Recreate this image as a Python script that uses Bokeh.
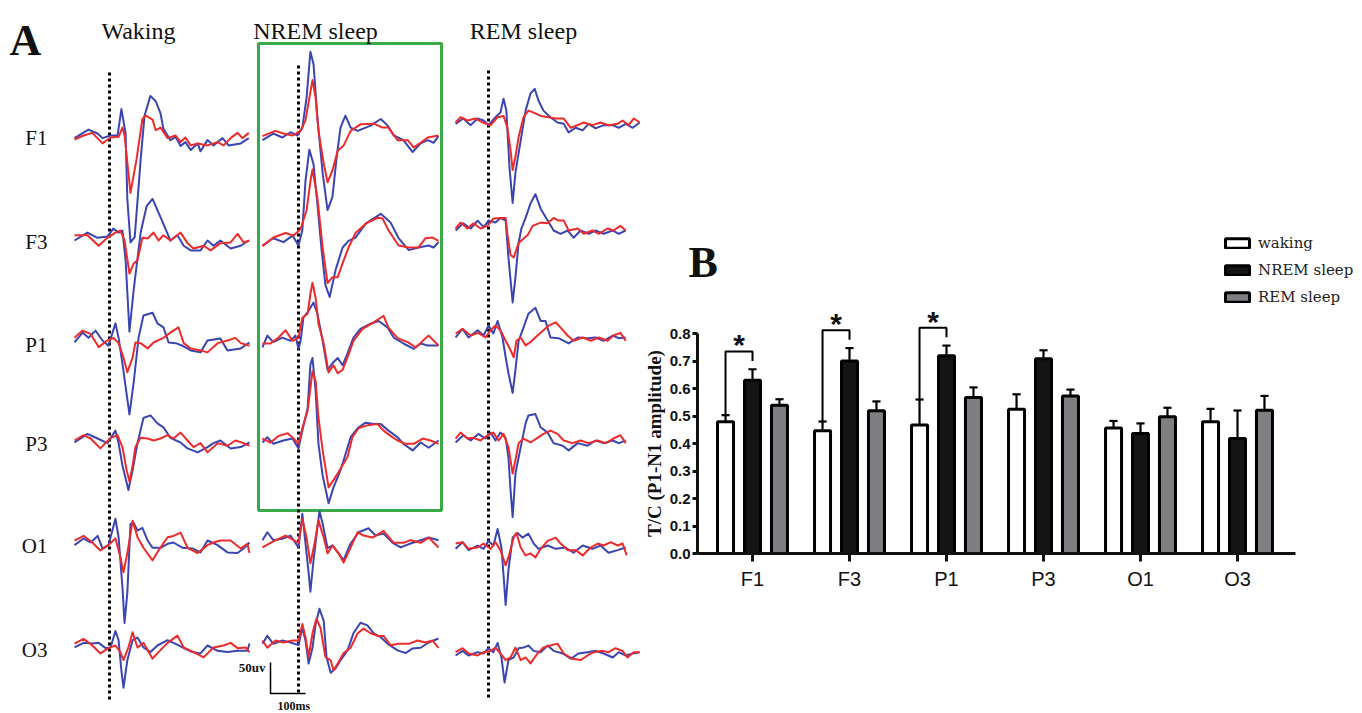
import math
from bokeh.plotting import figure
from bokeh.layouts import row
from bokeh.models import (Range1d, FixedTicker, PrintfTickFormatter, Legend, LegendItem,
                          Label, ColumnDataSource)
from bokeh.core.properties import value
from bokeh.embed import file_html
from bokeh.resources import INLINE
from bokeh.transform import dodge

# ---------------- Panel B data ----------------
CATEGORIES = ["F1", "F3", "P1", "P3", "O1", "O3"]
WAKING = [0.479, 0.446, 0.467, 0.525, 0.456, 0.479]
WAKING_ERR = [0.024, 0.034, 0.093, 0.054, 0.026, 0.047]
NREM = [0.630, 0.700, 0.719, 0.708, 0.436, 0.418]
NREM_ERR = [0.040, 0.047, 0.037, 0.031, 0.037, 0.102]
REM = [0.539, 0.519, 0.567, 0.573, 0.497, 0.521]
REM_ERR = [0.022, 0.034, 0.037, 0.023, 0.033, 0.052]
SERIES_LABELS = ["waking", "NREM sleep", "REM sleep"]
SIGNIFICANT = ["F1", "F3", "P1"]
Y_TICKS = [0.0, 0.1, 0.2, 0.3, 0.4, 0.5, 0.6, 0.7, 0.8]
Y_LABEL = "T/C (P1-N1 amplitude)"

# ---------------- Panel A data (time ms, amplitude uV) ----------------
COL_TITLES = ["Waking", "NREM sleep", "REM sleep"]
CHANNELS = ["F1", "F3", "P1", "P3", "O1", "O3"]

WAKING_F1_BLUE = [(-100,-4),(-60,9),(-34,3),(-20,-4),(3,0),(23,0),(34,40),(46,3),(51,-97),(60,-162),(72,-154),(89,-37),(100,30),(117,60),(132,52),(146,33),(154,10),(174,-7),(189,-2),(203,-16),(217,-10),(232,-22),(252,-12),(260,-24),(280,-7),(297,-15),(323,-4),(340,-15),(375,-12),(398,-4)]
WAKING_F1_RED = [(-100,-6),(-74,0),(-49,4),(-20,-12),(3,-3),(26,-2),(37,12),(43,0),(60,-87),(77,-37),(94,25),(103,30),(123,24),(132,8),(146,12),(166,-4),(189,0),(203,-10),(217,-3),(232,-15),(252,-12),(280,-15),(309,-10),(326,-15),(346,-4),(366,4),(380,-4),(398,4)]
WAKING_F3_BLUE = [(-100,0),(-63,12),(-34,4),(-6,6),(11,18),(26,12),(37,15),(46,-30),(57,-138),(69,-75),(89,12),(106,52),(123,63),(146,35),(166,10),(174,0),(194,8),(212,-8),(232,-15),(260,-15),(280,0),(297,-8),(317,0),(346,-12),(375,-8),(398,0)]
WAKING_F3_RED = [(-100,8),(-63,8),(-31,-8),(-6,4),(17,12),(31,15),(43,0),(57,-50),(69,-35),(80,-30),(94,4),(109,3),(126,12),(140,0),(154,8),(174,0),(203,12),(223,-4),(240,-12),(269,-8),(289,-15),(317,-4),(346,-3),(366,10),(383,-3),(400,0)]
WAKING_P1_BLUE = [(-100,-3),(-77,12),(-60,4),(-40,15),(-20,0),(-3,-8),(17,26),(26,4),(37,-35),(46,-70),(57,-112),(69,-64),(83,4),(97,38),(123,42),(137,26),(154,20),(169,-3),(189,-4),(209,-8),(232,-15),(260,-18),(280,0),(317,3),(337,-15),(375,-12),(400,-3)]
WAKING_P1_RED = [(-100,4),(-77,15),(-54,10),(-31,-10),(-6,0),(11,4),(26,-4),(40,-26),(51,-48),(66,-26),(74,-3),(89,-4),(109,-12),(126,-3),(154,4),(174,12),(197,20),(212,-4),(232,-12),(260,-15),(280,-18),(309,-4),(337,0),(360,4),(375,-4),(400,-8)]
WAKING_P3_BLUE = [(-100,-3),(-63,10),(-34,3),(-6,-4),(17,15),(26,-4),(37,-38),(54,-75),(66,-45),(80,-4),(97,34),(117,38),(137,26),(154,20),(174,4),(203,-3),(223,-12),(252,-18),(280,-10),(297,-4),(317,0),(346,-12),(375,-10),(400,-3)]
WAKING_P3_RED = [(-100,0),(-74,8),(-54,3),(-26,-12),(3,4),(23,8),(37,-10),(49,-45),(57,-62),(66,-38),(74,-10),(89,4),(109,3),(126,0),(146,3),(166,8),(183,3),(203,12),(223,0),(240,-10),(260,-4),(280,-18),(309,-4),(337,-8),(360,0),(383,-4),(400,-8)]
WAKING_O1_BLUE = [(-100,-4),(-74,6),(-54,0),(-34,10),(-20,-9),(-3,-4),(17,36),(26,8),(37,-68),(43,-122),(51,-76),(60,28),(69,30),(80,18),(94,22),(109,3),(123,-8),(146,-8),(166,-2),(183,0),(209,-8),(237,-9),(260,-15),(280,3),(309,-4),(337,-15),(366,-16),(383,-9),(400,0)]
WAKING_O1_RED = [(-100,3),(-74,10),(-49,0),(-26,-12),(-3,-4),(17,6),(31,-22),(40,-45),(51,-16),(66,33),(80,8),(97,-8),(123,-27),(140,-12),(166,8),(183,10),(203,15),(223,-8),(252,-16),(280,-4),(297,0),(317,3),(346,3),(375,-9),(394,-2),(400,-16)]
WAKING_O3_BLUE = [(-100,-3),(-74,4),(-49,3),(-31,4),(-11,-4),(3,-3),(17,22),(26,8),(34,-38),(40,-64),(51,-22),(66,8),(80,12),(97,-3),(117,-10),(137,0),(166,8),(183,4),(209,-3),(237,-10),(260,-12),(280,0),(309,-8),(337,-10),(366,-8),(394,-8),(400,3)]
WAKING_O3_RED = [(-100,3),(-74,10),(-49,0),(-26,-12),(-3,-4),(17,0),(31,-10),(40,-22),(54,-3),(66,20),(80,-3),(97,4),(123,-20),(140,-10),(166,4),(194,15),(212,-3),(240,-10),(269,-18),(297,-3),(326,0),(346,4),(366,-4),(389,-3),(400,-10)]

NREM_F1_BLUE = [(-103,-4),(-72,6),(-46,0),(-23,8),(-3,3),(11,15),(23,60),(34,130),(43,111),(54,30),(69,-54),(83,-110),(97,-90),(109,-30),(120,15),(134,33),(149,15),(169,10),(192,15),(206,18),(235,28),(255,18),(272,3),(300,-4),(326,-22),(349,-9),(369,-4),(386,-8),(400,2)]
NREM_F1_RED = [(-103,2),(-66,10),(-43,6),(-17,3),(6,10),(20,26),(31,60),(40,87),(49,60),(57,10),(72,-39),(83,-68),(97,-50),(112,-20),(129,-12),(149,10),(177,20),(215,21),(240,15),(257,15),(283,-4),(312,-4),(329,-15),(349,-8),(369,0),(400,3)]
NREM_F3_BLUE = [(-103,-3),(-72,8),(-43,2),(-17,12),(0,-3),(11,20),(20,95),(31,142),(43,120),(54,60),(66,-10),(77,-63),(89,-81),(106,-40),(126,-6),(143,4),(163,9),(192,30),(235,45),(263,32),(286,8),(315,-10),(343,-6),(372,-3),(386,-6),(400,2)]
NREM_F3_RED = [(-103,-4),(-72,9),(-37,16),(-14,12),(6,22),(23,50),(34,94),(40,112),(54,69),(69,-6),(83,-60),(97,-51),(112,-51),(126,-30),(143,-6),(163,16),(192,30),(226,39),(240,38),(257,20),(286,-3),(315,-6),(343,-6),(363,8),(383,9),(400,4)]
NREM_P1_BLUE = [(-103,-6),(-89,12),(-72,2),(-46,9),(-23,4),(-9,12),(0,-8),(6,4),(14,39),(29,50),(43,62),(54,45),(69,4),(83,-40),(97,-30),(112,-22),(126,-33),(140,-15),(157,9),(177,22),(206,30),(229,34),(255,24),(272,9),(300,0),(329,-8),(349,0),(369,-3),(400,-3)]
NREM_P1_RED = [(-103,0),(-80,0),(-57,9),(-37,20),(-17,4),(0,9),(11,39),(26,45),(34,75),(40,92),(49,69),(57,30),(72,0),(86,-44),(100,-33),(112,-45),(126,-40),(140,-21),(157,4),(183,22),(215,32),(243,42),(257,24),(283,8),(312,2),(335,-6),(355,4),(372,12),(400,-3)]
NREM_P3_BLUE = [(-103,0),(-89,8),(-72,-2),(-43,3),(-17,6),(0,-9),(11,18),(26,52),(34,118),(40,128),(49,78),(57,-2),(69,-50),(86,-92),(100,-68),(120,-42),(129,-27),(149,8),(169,22),(192,30),(215,28),(235,28),(257,18),(283,8),(300,-2),(326,-12),(349,0),(372,-8),(400,3)]
NREM_P3_RED = [(-103,6),(-80,0),(-57,10),(-31,14),(-14,6),(0,-2),(11,22),(26,48),(34,82),(40,108),(49,93),(57,38),(69,-12),(86,-68),(100,-57),(114,-45),(140,-22),(154,8),(172,22),(197,26),(226,28),(243,18),(263,10),(283,3),(306,-2),(329,-2),(355,6),(377,3),(400,-2)]
NREM_O1_BLUE = [(-103,2),(-89,14),(-72,2),(-46,4),(-23,9),(0,-9),(11,42),(20,-3),(29,-48),(34,-76),(43,-28),(54,21),(60,46),(69,27),(83,-10),(97,-6),(112,-16),(129,-28),(149,-3),(172,14),(200,20),(220,9),(243,12),(269,-2),(292,-9),(320,-3),(349,2),(372,6),(400,2)]
NREM_O1_RED = [(-103,-9),(-80,-2),(-57,4),(-37,9),(-14,2),(0,-2),(11,34),(23,6),(34,-33),(46,-3),(57,32),(72,6),(83,-18),(97,-6),(114,-18),(129,-32),(149,-9),(169,14),(186,9),(212,6),(243,16),(272,-2),(300,-2),(320,2),(349,-2),(372,6),(400,-9)]
NREM_O3_BLUE = [(-103,-2),(-89,10),(-72,-2),(-46,3),(-23,0),(0,-4),(11,22),(20,3),(29,-32),(40,-8),(49,28),(60,51),(72,33),(80,-22),(92,-46),(106,-39),(120,-27),(140,-12),(157,14),(177,30),(197,26),(215,14),(235,8),(255,-2),(283,-12),(306,-16),(326,-9),(349,-8),(372,0),(400,6)]
NREM_O3_RED = [(-103,3),(-89,-8),(-66,3),(-43,0),(-17,3),(0,3),(11,28),(20,8),(29,-22),(40,14),(51,36),(63,22),(77,-22),(92,-27),(100,-42),(112,-32),(129,-16),(149,-8),(169,14),(186,21),(206,14),(226,10),(243,10),(263,-4),(286,-2),(315,-2),(340,3),(363,0),(383,3),(400,-8)]

REM_F1_BLUE = [(-94,-2),(-72,6),(-51,-4),(-31,6),(-14,3),(0,-4),(20,8),(34,15),(43,36),(51,18),(60,-68),(69,-122),(77,-76),(92,-27),(106,18),(120,44),(132,51),(143,33),(157,18),(177,8),(197,0),(215,-2),(229,-15),(249,-8),(269,-12),(286,-2),(306,-9),(329,-4),(355,-4),(372,-8),(392,-2),(412,-8),(432,0)]
REM_F1_RED = [(-94,0),(-80,8),(-60,3),(-37,6),(-17,0),(6,-4),(26,8),(43,10),(54,-8),(63,-42),(69,-72),(77,-52),(86,-22),(100,8),(114,18),(129,15),(149,10),(172,8),(192,6),(215,6),(235,-8),(255,-4),(272,0),(297,-4),(320,0),(343,-4),(369,-2),(383,3),(400,-4),(415,6),(432,0)]
REM_F3_BLUE = [(-94,-3),(-72,8),(-51,0),(-31,12),(-14,2),(0,12),(20,9),(34,16),(49,12),(57,-44),(69,-112),(77,-74),(86,-22),(94,0),(106,16),(120,38),(134,52),(149,30),(169,12),(186,-3),(206,-8),(226,-3),(243,-14),(263,-3),(286,-8),(306,-3),(329,-8),(355,-3),(372,-8),(392,-3)]
REM_F3_RED = [(-94,0),(-80,9),(-60,0),(-43,8),(-23,0),(-3,4),(14,15),(34,16),(49,16),(54,-8),(63,-40),(72,-44),(86,-22),(112,-10),(126,4),(149,9),(169,8),(186,16),(200,12),(215,12),(229,-3),(255,0),(272,-8),(297,-3),(315,-8),(340,0),(357,-3),(377,4),(392,-3)]
REM_P1_BLUE = [(-94,-3),(-74,10),(-57,-3),(-31,8),(-14,0),(0,15),(14,3),(26,22),(40,-3),(49,-33),(57,-57),(69,-87),(77,-52),(86,-8),(100,12),(114,33),(134,42),(149,22),(163,22),(177,-3),(200,-4),(229,-12),(255,-3),(283,-4),(306,-3),(329,-8),(355,0),(372,-4),(392,-3)]
REM_P1_RED = [(-94,3),(-74,10),(-51,0),(-29,4),(-9,-3),(6,8),(20,15),(34,8),(49,-8),(63,-22),(72,-33),(80,-8),(92,-3),(106,-15),(120,-10),(140,0),(157,8),(172,15),(192,20),(206,12),(226,0),(243,-8),(269,-3),(292,-8),(315,-3),(340,-8),(357,0),(377,4),(392,-8)]
REM_P3_BLUE = [(-94,-3),(-72,8),(-51,0),(-29,10),(-9,3),(6,12),(20,0),(34,12),(49,4),(57,-26),(63,-75),(69,-116),(77,-50),(92,-10),(106,26),(114,38),(134,40),(149,20),(169,12),(186,-4),(212,-8),(229,-15),(255,-4),(283,-8),(306,0),(329,-4),(355,0),(372,-4),(392,0)]
REM_P3_RED = [(-94,3),(-80,12),(-60,3),(-43,4),(-23,0),(-3,8),(14,12),(29,0),(43,10),(57,-10),(69,-50),(77,-30),(86,-4),(100,3),(120,-3),(140,4),(157,10),(177,15),(197,10),(215,0),(240,-4),(263,0),(286,-4),(312,0),(335,-4),(357,3),(377,8),(392,-4)]
REM_O1_BLUE = [(-94,-2),(-74,8),(-57,-4),(-31,3),(-14,-2),(0,10),(14,3),(26,28),(37,0),(43,-42),(49,-87),(57,-34),(69,15),(83,22),(97,15),(114,21),(129,6),(143,-2),(169,3),(192,-2),(220,0),(243,-8),(269,3),(297,-2),(320,3),(343,-8),(369,-4),(392,0)]
REM_O1_RED = [(-94,6),(-74,8),(-57,-2),(-31,0),(-14,6),(6,-2),(20,8),(34,-4),(49,-27),(57,-15),(72,15),(80,22),(92,0),(106,-12),(120,-9),(134,-15),(149,-2),(169,10),(192,15),(206,6),(226,-4),(249,-4),(269,-12),(292,0),(312,6),(329,3),(349,8),(369,3),(383,6),(395,-12)]
REM_O3_BLUE = [(-94,-3),(-74,4),(-57,-3),(-31,2),(-14,0),(0,8),(14,2),(26,16),(37,-6),(46,-44),(57,-10),(72,-6),(86,8),(100,9),(114,12),(129,4),(149,2),(169,12),(186,4),(212,0),(235,-8),(257,0),(283,2),(306,4),(329,0),(355,-6),(372,2),(392,-3),(412,0),(432,2)]
REM_O3_RED = [(-94,2),(-74,8),(-57,0),(-31,-3),(-14,2),(6,4),(20,9),(34,0),(49,-10),(63,-6),(77,9),(92,-10),(106,-6),(120,-15),(140,0),(157,9),(177,12),(197,15),(215,0),(240,-8),(263,-10),(283,-3),(300,2),(326,4),(343,2),(363,8),(383,4),(397,-6),(415,2),(432,2)]

TRACES = {
    "Waking": [(WAKING_F1_BLUE, WAKING_F1_RED), (WAKING_F3_BLUE, WAKING_F3_RED),
               (WAKING_P1_BLUE, WAKING_P1_RED), (WAKING_P3_BLUE, WAKING_P3_RED),
               (WAKING_O1_BLUE, WAKING_O1_RED), (WAKING_O3_BLUE, WAKING_O3_RED)],
    "NREM sleep": [(NREM_F1_BLUE, NREM_F1_RED), (NREM_F3_BLUE, NREM_F3_RED),
                   (NREM_P1_BLUE, NREM_P1_RED), (NREM_P3_BLUE, NREM_P3_RED),
                   (NREM_O1_BLUE, NREM_O1_RED), (NREM_O3_BLUE, NREM_O3_RED)],
    "REM sleep": [(REM_F1_BLUE, REM_F1_RED), (REM_F3_BLUE, REM_F3_RED),
                  (REM_P1_BLUE, REM_P1_RED), (REM_P3_BLUE, REM_P3_RED),
                  (REM_O1_BLUE, REM_O1_RED), (REM_O3_BLUE, REM_O3_RED)],
}

# ---------------- layout constants (screen px) ----------------
W, H = 1362, 713
WA = 640
PX_PER_MS = 0.35      # 100 ms scale bar = 35 px
PX_PER_UV = 0.66      # 50 uV scale bar = 33 px
STIM_X = {"Waking": 109, "NREM sleep": 298, "REM sleep": 488}
BASE_Y = {"Waking": [135, 240, 340, 440, 542, 645],
          "NREM sleep": [137, 243, 343, 442, 541, 642],
          "REM sleep": [122, 228, 335, 440, 547, 653]}
DOT_SPAN = {"Waking": (72, 700), "NREM sleep": (65, 693), "REM sleep": (70, 698)}
TITLE_X = {"Waking": 138, "NREM sleep": 315, "REM sleep": 523}
ROW_LABEL_Y = [137, 241, 344, 443, 545, 649]
BLUE = "#3b45b2"
RED = "#ee2b2b"
GREEN = "#3aaa48"
SERIF = "Liberation Serif"
INK = "#111111"

# ================= Panel A =================
pa = figure(width=WA, height=H, x_range=Range1d(0, WA), y_range=Range1d(H, 0),
            output_backend="svg", toolbar_location=None,
            x_axis_location=None, y_axis_location=None, min_border=0)
pa.grid.visible = False
pa.outline_line_color = None

pa.quad(left=[258], right=[441], top=[43], bottom=[510], fill_color=None,
        line_color=GREEN, line_width=3)

for col in COL_TITLES:
    y0, y1 = DOT_SPAN[col]
    pa.segment(x0=[STIM_X[col]], y0=[y0], x1=[STIM_X[col]], y1=[y1],
               line_color="black", line_width=3, line_dash="3 3")

bxs, bys, rxs, rys = [], [], [], []
for col in COL_TITLES:
    sx = STIM_X[col]
    for k, (blue, red) in enumerate(TRACES[col]):
        base = BASE_Y[col][k]
        bxs.append([sx + t * PX_PER_MS for t, v in blue])
        bys.append([base - v * PX_PER_UV for t, v in blue])
        rxs.append([sx + t * PX_PER_MS for t, v in red])
        rys.append([base - v * PX_PER_UV for t, v in red])
pa.multi_line(xs=bxs, ys=bys, line_color=BLUE, line_width=2, line_join="round")
pa.multi_line(xs=rxs, ys=rys, line_color=RED, line_width=2, line_join="round")

pa.text(x=[9], y=[40], text=["A"], text_font=value(SERIF), text_font_style="bold",
        text_font_size=value("44px"), text_align="left", text_baseline="alphabetic",
        text_color=INK)
pa.text(x=[TITLE_X[c] for c in COL_TITLES], y=[30] * 3, text=COL_TITLES,
        text_font=value(SERIF), text_font_size=value("24px"), text_align="center",
        text_baseline="alphabetic", text_color=INK)
pa.text(x=[47] * 6, y=ROW_LABEL_Y, text=CHANNELS, text_font=value(SERIF),
        text_font_size=value("21px"), text_align="right", text_baseline="middle",
        text_color=INK)

pa.multi_line(xs=[[270, 270, 305]], ys=[[662, 693, 693]], line_color="black", line_width=1.5)
pa.text(x=[265], y=[667], text=["50uv"], text_font=value(SERIF), text_font_style="bold",
        text_font_size=value("13px"), text_align="right", text_baseline="middle",
        text_color=INK)
pa.text(x=[277], y=[705], text=["100ms"], text_font=value(SERIF), text_font_style="bold",
        text_font_size=value("12px"), text_align="left", text_baseline="alphabetic",
        text_color=INK)

# ================= Panel B =================
PX_PER_CAT = 97.0
PX_PER_VAL = 275.0
AX_X, AX_Y = 697, 553                  # screen position of the axes' corner
X0 = -0.567                            # x value at the y axis
XL = X0 - (AX_X - WA) / PX_PER_CAT
XR = X0 + (W - AX_X) / PX_PER_CAT
YB = -(H - AX_Y) / PX_PER_VAL
YT = AX_Y / PX_PER_VAL

pb = figure(width=W - WA, height=H, x_range=Range1d(XL, XR), y_range=Range1d(YB, YT),
            output_backend="svg", toolbar_location=None, min_border=0)
pb.grid.visible = False
pb.outline_line_color = None

idx = list(range(len(CATEGORIES)))
src = ColumnDataSource(dict(idx=idx, waking=WAKING, nrem=NREM, rem=REM))
OFFS = [-0.278, 0.0, 0.278]
FILLS = ["white", "#141414", "#7e7f83"]
BAR_W = 0.165
renderers = []
for field, off, fill in zip(["waking", "nrem", "rem"], OFFS, FILLS):
    r = pb.vbar(x=dodge("idx", off, range=pb.x_range), top=field, bottom=0, width=BAR_W,
                source=src, fill_color=fill, line_color="black", line_width=3)
    renderers.append(r)

ex0, ey0, ex1, ey1 = [], [], [], []
for vals, errs, off in zip([WAKING, NREM, REM], [WAKING_ERR, NREM_ERR, REM_ERR], OFFS):
    for i, (v, e) in enumerate(zip(vals, errs)):
        x = i + off
        ex0 += [x, x - 0.042]
        ey0 += [v, v + e]
        ex1 += [x, x + 0.042]
        ey1 += [v + e, v + e]
pb.segment(x0=ex0, y0=ey0, x1=ex1, y1=ey1, line_color="black", line_width=2.2)

bx, by, sx_, sy_ = [], [], [], []
for c in SIGNIFICANT:
    i = CATEGORIES.index(c)
    xl, xr = i + OFFS[0], i + OFFS[1]
    top = NREM[i] + NREM_ERR[i] + 0.065
    bx.append([xl, xl, xr, xr])
    by.append([WAKING[i] + WAKING_ERR[i], top, top, top - 0.035])
    sx_.append((xl + xr) / 2)
    sy_.append(top + 0.024)
pb.multi_line(xs=bx, ys=by, line_color="black", line_width=2)
pb.text(x=sx_, y=sy_, text=["*"] * len(sx_), text_font=value("Liberation Sans"),
        text_font_style="bold", text_font_size=value("30px"), text_align="center",
        text_baseline="alphabetic", text_color=INK)

pb.xaxis.fixed_location = 0
pb.yaxis.fixed_location = X0
pb.xaxis.ticker = FixedTicker(ticks=idx)
pb.xaxis.major_label_overrides = {i: c for i, c in enumerate(CATEGORIES)}
pb.xaxis.bounds = (X0, 5.598)
pb.yaxis.ticker = FixedTicker(ticks=Y_TICKS)
pb.yaxis.formatter = PrintfTickFormatter(format="%.1f")
pb.yaxis.bounds = (0, 0.8)
for ax in (pb.xaxis, pb.yaxis):
    ax.axis_line_width = 3
    ax.axis_line_color = INK
    ax.major_tick_line_width = 3
    ax.major_tick_line_color = INK
    ax.major_tick_in = 0
    ax.minor_tick_line_color = None
pb.xaxis.major_tick_out = 8
pb.yaxis.major_tick_out = 5
pb.xaxis.major_label_text_font = "Liberation Sans"
pb.xaxis.major_label_text_font_size = "20px"
pb.xaxis.major_label_text_color = INK
pb.xaxis.major_label_standoff = 6
pb.yaxis.major_label_text_font = "Liberation Sans"
pb.yaxis.major_label_text_font_style = "bold"
pb.yaxis.major_label_text_font_size = "15px"
pb.yaxis.major_label_text_color = INK
pb.yaxis.major_label_standoff = 2

pb.add_layout(Label(x=X0 + (654 - AX_X) / PX_PER_CAT, y=0.4, text=Y_LABEL, angle=math.pi / 2,
                    text_font=SERIF, text_font_style="bold", text_font_size="19px",
                    text_align="center", text_baseline="middle", text_color=INK))

legend = Legend(items=[LegendItem(label=lab, renderers=[r]) for lab, r in zip(SERIES_LABELS, renderers)],
                location=(1222 - WA, H - 306), orientation="vertical", padding=0, margin=0,
                spacing=9, glyph_width=30, glyph_height=12, label_height=18, label_standoff=6,
                label_text_font="DejaVu Serif", label_text_font_size="15px",
                label_text_color="#222222", border_line_color=None, background_fill_alpha=0)
pb.add_layout(legend)

pb.add_layout(Label(x=X0 + (688 - AX_X) / PX_PER_CAT, y=(AX_Y - 262) / PX_PER_VAL, text="B",
                    text_font=SERIF, text_font_style="bold", text_font_size="44px",
                    text_align="left", text_baseline="alphabetic", text_color=INK))

layout = row(pa, pb)
open("out.html", "w").write(file_html(layout, INLINE))
